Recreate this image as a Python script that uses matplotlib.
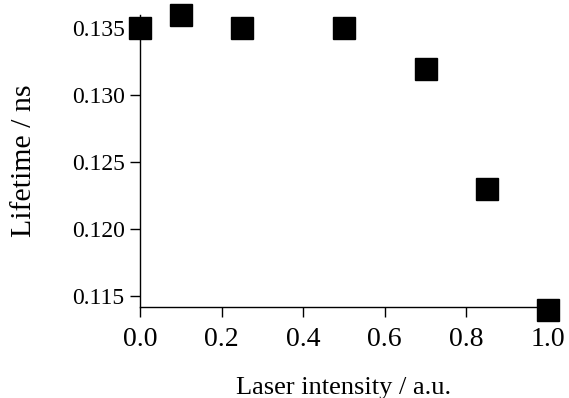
import matplotlib.pyplot as plt

# Laser intensity vs lifetime
intensity = [0.0, 0.1, 0.25, 0.5, 0.7, 0.85, 1.0]
lifetime = [0.135, 0.136, 0.135, 0.135, 0.132, 0.123, 0.114]
xticks = [0.0, 0.2, 0.4, 0.6, 0.8, 1.0]
yticks = [0.115, 0.120, 0.125, 0.130, 0.135]

plt.rcParams['font.family'] = 'Liberation Serif'

fig = plt.figure(figsize=(5.69, 3.98), dpi=100)
ax = fig.add_axes([140 / 569, 91 / 398, 408 / 569, 292 / 398])

ax.plot(intensity, lifetime, linestyle='none', marker='s', markersize=16.5,
        color='black', clip_on=False, zorder=3)

ax.set_xlim(0.0, 1.0)
ax.set_ylim(0.1142, 0.136)
ax.set_xticks(xticks)
ax.set_xticklabels([f'{v:.1f}' for v in xticks], fontsize=20)
ax.set_yticks(yticks)
ax.set_yticklabels([f'{v:.3f}' for v in yticks], fontsize=17)

ax.spines['top'].set_visible(False)
ax.spines['right'].set_visible(False)
for s in ('left', 'bottom'):
    ax.spines[s].set_linewidth(1.0)
ax.tick_params(axis='both', direction='out', length=7, width=1.0)
ax.tick_params(axis='x', pad=7.5)
ax.tick_params(axis='y', pad=4)

ax.set_xlabel('Laser intensity / a.u.', fontsize=19, labelpad=18)
ax.set_ylabel('Lifetime / ns', fontsize=21.5, labelpad=25)

fig.savefig('out.png', dpi=100)
